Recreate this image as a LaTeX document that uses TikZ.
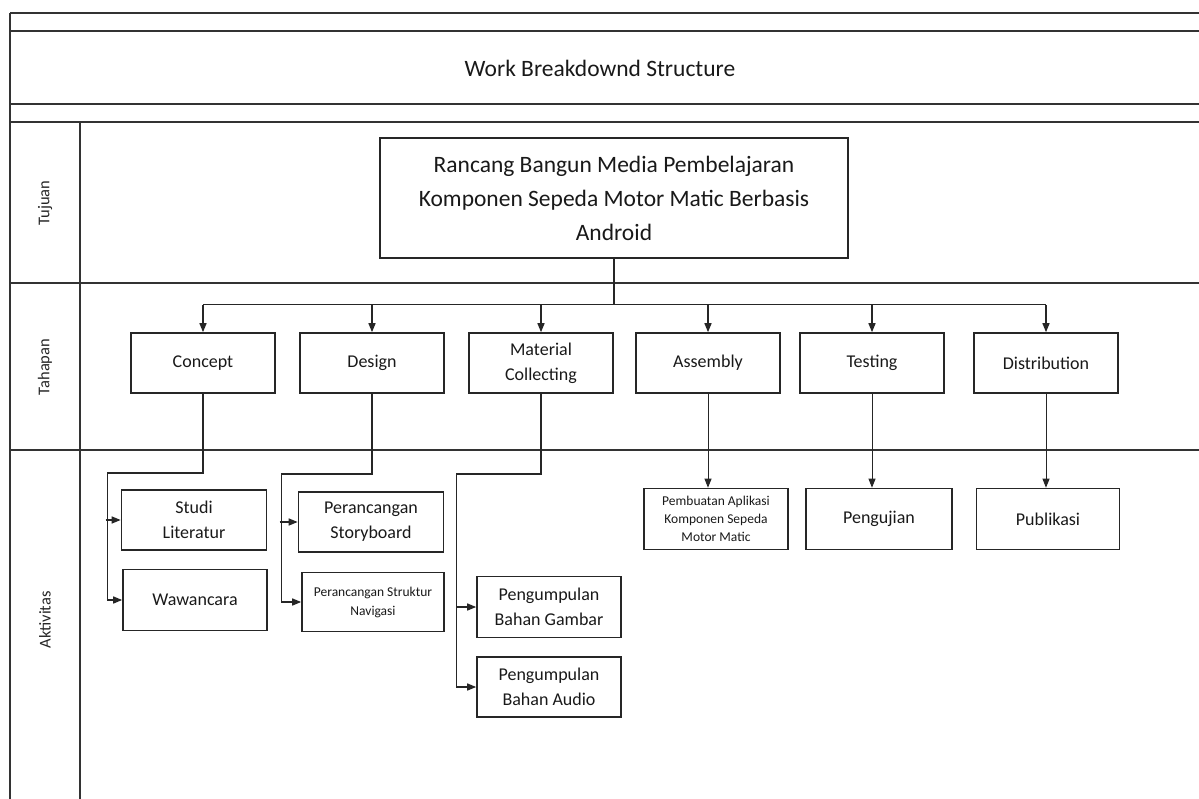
\documentclass[tikz,border=0pt]{standalone}
\usepackage{fontspec}
\setmainfont{Carlito}
\usetikzlibrary{arrows.meta,calc}

\begin{document}
\begin{tikzpicture}[x=1pt, y=-1pt,
  frame/.style={draw=black!80, line width=1.6pt},
  box/.style={draw=black!85, line width=1.6pt, align=center, inner sep=0pt, text=black!90, font=\fontsize{18}{25}\selectfont},
  link/.style={draw=black!85, line width=1.4pt},
  thinlink/.style={draw=black!85, line width=0.9pt},
  tip/.style={-{Triangle[length=9pt,width=7pt]}},
  rowlabel/.style={rotate=90, text=black!85, font=\fontsize{16.5}{18}\selectfont}]
\useasboundingbox (0,0) rectangle (1199,799);
% Frame
\draw[frame] (10,13) -- (1199,13);
\draw[frame] (10,31) -- (1199,31);
\draw[frame] (10,104) -- (1199,104);
\draw[frame, line width=2.4pt] (10,122) -- (1199,122);
\draw[frame] (10,283) -- (1199,283);
\draw[frame] (10,450) -- (1199,450);
\draw[frame] (10,13) -- (10,799);
\draw[frame, line width=2.6pt] (10,122) -- (10,450);
\draw[frame] (80,122) -- (80,799);
% Title and rows
\node[text=black!90, font=\fontsize{23.5}{28}\selectfont] (title) at (600,68) {Work Breakdownd Structure};
\node[rowlabel] (tujuan) at (45,203) {Tujuan};
\node[rowlabel] (tahapan) at (45,367) {Tahapan};
\node[rowlabel] (aktivitas) at (45,620) {Aktivitas};
% Tujuan
\node[box, minimum width=468pt, minimum height=120pt, font=\fontsize{23.5}{34}\selectfont] (goal) at (614,198)
  {Rancang Bangun Media Pembelajaran\\Komponen Sepeda Motor Matic Berbasis\\Android};
% Tahapan
\foreach \name/\x/\txt in {concept/203/Concept, design/372/Design, material/541/{Material\\Collecting},
  assembly/708/Assembly, testing/872/Testing, distribution/1046/Distribution}
  \node[box, minimum width=144pt, minimum height=60pt] (\name) at (\x,363) {\txt};
% Aktivitas
\node[box, minimum width=145pt, minimum height=60pt] (studi) at (194,520) {Studi\\Literatur};
\node[box, minimum width=144pt, minimum height=61pt] (wawan) at (195,600) {Wawancara};
\node[box, minimum width=145pt, minimum height=60pt] (story) at (371,522) {Perancangan\\Storyboard};
\node[box, minimum width=142pt, minimum height=59pt, font=\fontsize{13.5}{19}\selectfont] (navig) at (373,602) {Perancangan Struktur\\Navigasi};
\node[box, minimum width=144pt, minimum height=61pt] (gambar) at (549,607) {Pengumpulan\\Bahan Gambar};
\node[box, minimum width=144pt, minimum height=60pt] (audio) at (549,687) {Pengumpulan\\Bahan Audio};
\node[box, minimum width=144pt, minimum height=61pt, font=\fontsize{13.5}{18}\selectfont] (aplikasi) at (716,519) {Pembuatan Aplikasi\\Komponen Sepeda\\Motor Matic};
\node[box, minimum width=146pt, minimum height=61pt] (uji) at (879,519) {Pengujian};
\node[box, minimum width=143pt, minimum height=61pt] (publik) at (1048,519) {Publikasi};
% Connectors
\draw[link] (goal.south) -- ++(0,46) coordinate (bus);
\draw[link] (bus -| concept.north) -- (bus -| distribution.north);
\foreach \name in {concept,design,material,assembly,testing,distribution}
  \draw[link, tip] (bus -| \name.north) -- (\name.north);
\draw[link, tip] (concept.south) -- ++(0,79) -| ([xshift=-15pt]wawan.west) -- (wawan.west);
\draw[link, tip] ([xshift=-15pt]studi.west) -- (studi.west);
\draw[link, tip] (design.south) -- ++(0,80) -| ([xshift=-20pt]navig.west) -- (navig.west);
\draw[link, tip] ([xshift=-18pt]story.west) -- (story.west);
\draw[link, tip] (material.south) -- ++(0,80) -| ([xshift=-20pt]audio.west) -- (audio.west);
\draw[link, tip] ([xshift=-20pt]gambar.west) -- (gambar.west);
\draw[thinlink, tip] (assembly.south) -- (assembly.south |- aplikasi.north);
\draw[thinlink, tip] (testing.south) -- (testing.south |- uji.north);
\draw[thinlink, tip] (distribution.south) -- (distribution.south |- publik.north);
\end{tikzpicture}
\end{document}
